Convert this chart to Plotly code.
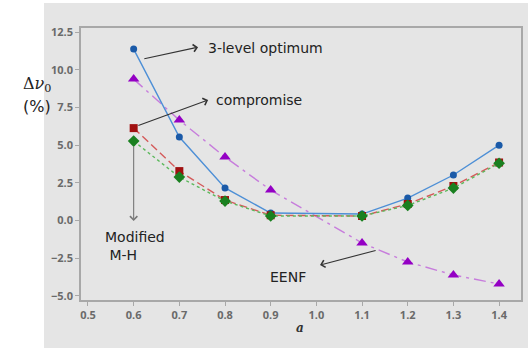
import plotly.graph_objects as go

a_vals = [0.6, 0.7, 0.8, 0.9, 1.1, 1.2, 1.3, 1.4]
three_level = [11.37, 5.54, 2.16, 0.50, 0.43, 1.49, 3.02, 5.00]
compromise = [6.13, 3.28, 1.36, 0.35, 0.30, 1.10, 2.29, 3.85]
modified_mh = [5.27, 2.88, 1.29, 0.30, 0.30, 1.00, 2.15, 3.80]
eenf = [9.38, 6.66, 4.21, 2.02, -1.49, -2.75, -3.61, -4.21]

x_ticks = [0.5, 0.6, 0.7, 0.8, 0.9, 1.0, 1.1, 1.2, 1.3, 1.4]
y_ticks = [-5.0, -2.5, 0.0, 2.5, 5.0, 7.5, 10.0, 12.5]

fig = go.Figure()

fig.add_trace(go.Scatter(x=a_vals, y=eenf, mode="lines+markers",
    line=dict(color="#c77ddc", width=1.4, dash="12px,5px,3px,5px"),
    marker=dict(symbol="triangle-up", size=10, color="#9400c4")))
fig.add_trace(go.Scatter(x=a_vals, y=three_level, mode="lines+markers",
    line=dict(color="#4d8fd6", width=1.4),
    marker=dict(symbol="circle", size=7, color="#1a5aa8")))
fig.add_trace(go.Scatter(x=a_vals, y=compromise, mode="lines+markers",
    line=dict(color="#d45a5a", width=1.4, dash="8px,4px"),
    marker=dict(symbol="square", size=8, color="#a01010")))
fig.add_trace(go.Scatter(x=a_vals, y=modified_mh, mode="lines+markers",
    line=dict(color="#5cb85c", width=1.4, dash="3px,3px"),
    marker=dict(symbol="diamond", size=9, color="#1a8020")))

tick_font = dict(family="Open Sans", size=11, color="#6a6a6a", weight="bold")

fig.update_layout(
    width=528, height=348,
    margin=dict(l=81, r=7, t=28, b=48),
    paper_bgcolor="white",
    plot_bgcolor="white",
    showlegend=False,
    xaxis=dict(range=[0.4847, 1.448], tickvals=x_ticks, tickformat=".1f",
               showgrid=False, zeroline=False, showline=True, linecolor="#a8a8a8",
               linewidth=1.5, mirror=True, ticks="outside", ticklen=4,
               tickcolor="#a8a8a8", tickfont=tick_font, automargin=False),
    yaxis=dict(range=[-5.27, 12.77], tickvals=y_ticks, tickformat=".1f",
               showgrid=False, zeroline=False, showline=True, linecolor="#a8a8a8",
               linewidth=1.5, mirror=True, ticks="outside", ticklen=4,
               tickcolor="#a8a8a8", tickfont=tick_font, automargin=False),
    shapes=[dict(type="rect", xref="paper", yref="paper",
                 x0=(44 - 81) / 440, x1=(530 - 81) / 440,
                 y0=(300 - 350) / 272, y1=(300 - 3) / 272,
                 fillcolor="#e5e5e5", line=dict(width=0), layer="below")],
)

ann_font = dict(family="DejaVu Sans", size=14, color="#222222")

def arrow(x, y, ax, ay, color="#333333"):
    fig.add_annotation(x=x, y=y, ax=ax, ay=ay, xref="x", yref="y",
                       axref="x", ayref="y", text="", showarrow=True,
                       arrowhead=4, arrowsize=1.3, arrowwidth=1.1,
                       arrowcolor=color)

arrow(0.741, 11.5, 0.620, 10.71)
arrow(0.763, 7.99, 0.607, 6.27)
arrow(0.6, -0.03, 0.6, 5.0, color="#777777")
arrow(1.008, -2.95, 1.133, -1.96)

fig.add_annotation(x=0.5 + (206 - 88) / 456.7, y=12.5 - (48 - 32) / 15.08,
                   xref="x", yref="y", text="3-level optimum", showarrow=False,
                   xanchor="left", font=ann_font)
fig.add_annotation(x=0.5 + (214 - 88) / 456.7, y=12.5 - (100 - 32) / 15.08,
                   xref="x", yref="y", text="compromise", showarrow=False,
                   xanchor="left", font=ann_font)
fig.add_annotation(x=0.5 + (103 - 88) / 456.7, y=12.5 - (246 - 32) / 15.08,
                   xref="x", yref="y", text="Modified<br> M-H", showarrow=False,
                   xanchor="left", align="left", font=ann_font)
fig.add_annotation(x=0.5 + (268 - 88) / 456.7, y=12.5 - (277 - 32) / 15.08,
                   xref="x", yref="y", text="EENF", showarrow=False,
                   xanchor="left", font=ann_font)

fig.add_annotation(x=(300 - 81) / 440, y=(300 - 328) / 272, xref="paper", yref="paper",
                   text="<b><i>a</i></b>", showarrow=False, yanchor="middle",
                   font=dict(family="DejaVu Serif", size=12, color="#333333"))
fig.add_annotation(x=(21 - 81) / 440, y=(300 - 84) / 272, xref="paper", yref="paper",
                   text="Δ<i>ν</i><sub>0</sub>", showarrow=False, yanchor="middle",
                   font=dict(family="DejaVu Serif", size=16, color="#222222"))
fig.add_annotation(x=(21 - 81) / 440, y=(300 - 106) / 272, xref="paper", yref="paper",
                   text="(%)", showarrow=False, yanchor="middle",
                   font=dict(family="DejaVu Sans", size=16, color="#222222"))

fig.write_html("out.html", config={"displayModeBar": False},
               post_script="document.body.style.margin='0';")
